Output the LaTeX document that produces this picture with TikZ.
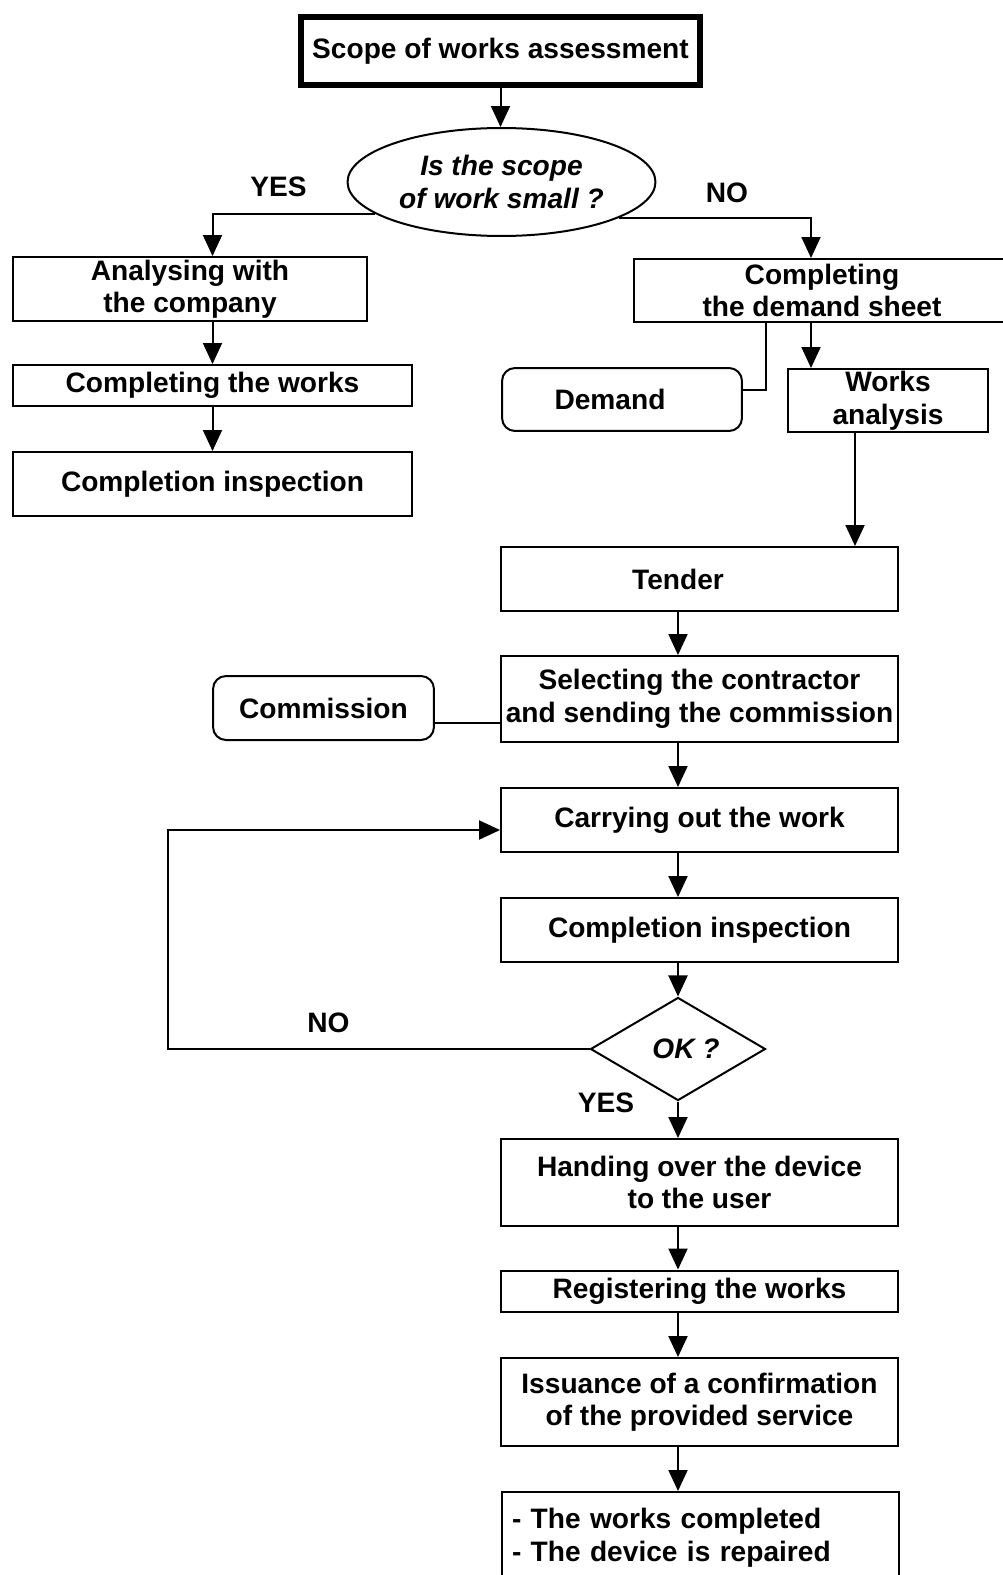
\documentclass[tikz,border=0pt]{standalone}
\usepackage{fontspec}
\setmainfont{Liberation Sans}
\usetikzlibrary{arrows.meta,shapes.geometric}

\begin{document}
\begin{tikzpicture}[x=0.02cm, y=-0.02cm,
    font=\fontsize{16pt}{18.5pt}\selectfont\bfseries,
    line width=0.04cm, >={Triangle[length=0.42cm,width=0.38cm]},
    box/.style={draw, rectangle, align=center, inner sep=0pt},
    rbox/.style={box, rounded corners=0.26cm},
    lbl/.style={inner sep=0pt}]
    \useasboundingbox (0,0) rectangle (1003,1575);

    % Start
    \node[box, line width=0.12cm, minimum width=7.98cm, minimum height=1.36cm] (scope) at (500.5,51) {Scope of works assessment};

    % Decision
    \node[draw, ellipse, inner sep=0pt, minimum width=6.16cm, minimum height=2.16cm, align=center,
          font=\fontsize{16pt}{18.5pt}\selectfont\bfseries\itshape] (small) at (501.5,182) {Is the scope\\of work small ?};
    \node[lbl] (yes1) at (278.5,187) {YES};
    \node[lbl] (no1) at (727,193) {NO};

    % Small scope
    \node[box, minimum width=7.08cm, minimum height=1.28cm] (ana) at (190,289) {Analysing with\\the company};
    \node[box, minimum width=7.98cm, minimum height=0.82cm] (works) at (212.5,385.5) {Completing the works};
    \node[box, minimum width=7.98cm, minimum height=1.28cm] (insp) at (212.5,484) {Completion inspection};

    % Large scope
    \node[box, minimum width=7.52cm, minimum height=1.26cm] (sheet) at (822,290.5) {Completing\\the demand sheet};
    \node[rbox, minimum width=4.8cm, minimum height=1.26cm] (demand) at (622,399.5) {Demand\hspace*{0.48cm}};
    \node[box, minimum width=4cm, minimum height=1.26cm] (wa) at (888,400.5) {Works\\analysis};
    \node[box, minimum width=7.94cm, minimum height=1.28cm] (tender) at (699.5,579) {Tender\hspace*{0.86cm}};
    \node[box, minimum width=7.94cm, minimum height=1.72cm] (select) at (699.5,699) {Selecting the contractor\\and sending the commission};
    \node[rbox, minimum width=4.42cm, minimum height=1.28cm] (comm) at (323.5,708) {Commission};
    \node[box, minimum width=7.94cm, minimum height=1.28cm] (carry) at (699.5,820) {Carrying out the work};
    \node[box, minimum width=7.94cm, minimum height=1.28cm] (check) at (699.5,930) {Completion inspection};

    % OK decision
    \node[draw, diamond, inner sep=0pt, minimum width=3.5cm, minimum height=1.76cm,
          font=\fontsize{16pt}{18.5pt}\selectfont\bfseries\itshape] (ok) at (678,1049) {\hspace*{0.32cm}OK ?};
    \node[lbl] (no2) at (328.5,1023) {NO};
    \node[lbl] (yes2) at (606,1103) {YES};

    % Closing
    \node[box, minimum width=7.94cm, minimum height=1.74cm] (hand) at (699.5,1182.5) {Handing over the device\\to the user};
    \node[box, minimum width=7.94cm, minimum height=0.82cm] (reg) at (699.5,1291) {Registering the works};
    \node[box, minimum width=7.94cm, minimum height=1.76cm] (iss) at (699.5,1402) {Issuance of a confirmation\\of the provided service};
    \node[box, anchor=north west, text width=7.54cm, align=left, inner xsep=0.2cm, inner ysep=0.33cm] (done) at (501,1491) {- The works completed\\- The device is repaired};

    % Columns
    \coordinate (nocol) at (811,0);
    \coordinate (dlink) at (766,390);
    \coordinate (wacol) at (855,0);
    \coordinate (mcol) at (678,0);
    \coordinate (clink) at (0,723);
    \coordinate (loop) at (168,830);

    % Arrows
    \draw[->] (scope.south) -- (scope.south |- small.north);
    \draw[->] (small.194) -| (works.north |- ana.north);
    \draw[->] (small.343) -| (nocol |- sheet.north);
    \draw[->] (works.north |- ana.south) -- (works.north);
    \draw[->] (works.south) -- (insp.north);
    \draw[->] (nocol |- sheet.south) -- (nocol |- wa.north);
    \draw (dlink |- sheet.south) |- (demand.east |- dlink);
    \draw[->] (wacol |- wa.south) -- (wacol |- tender.north);
    \draw[->] (mcol |- tender.south) -- (mcol |- select.north);
    \draw (comm.east |- clink) -- (select.west |- clink);
    \draw[->] (mcol |- select.south) -- (mcol |- carry.north);
    \draw[->] (mcol |- carry.south) -- (mcol |- check.north);
    \draw[->] (mcol |- check.south) -- (ok.north);
    \draw[->] (ok.west) -| (loop) -- (carry.west |- loop);
    \draw[->] (ok.south) -- (mcol |- hand.north);
    \draw[->] (mcol |- hand.south) -- (mcol |- reg.north);
    \draw[->] (mcol |- reg.south) -- (mcol |- iss.north);
    \draw[->] (mcol |- iss.south) -- (mcol |- done.north);

\end{tikzpicture}
\end{document}
